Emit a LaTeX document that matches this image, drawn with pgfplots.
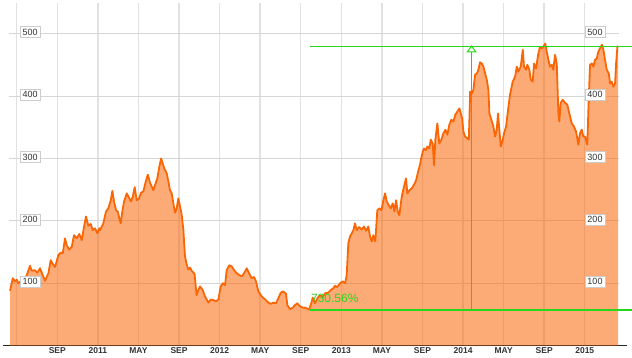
\documentclass[border=0pt]{standalone}
\usepackage{pgfplots}
\pgfplotsset{compat=1.18}
\usepackage{pgfplotstable}
\usepackage{fontspec}
\setmainfont{Liberation Sans}
\definecolor{lineor}{RGB}{250,102,5}
\definecolor{grn}{RGB}{40,215,25}
\definecolor{grnb}{RGB}{41,214,26}
\definecolor{grnc}{RGB}{30,220,20}
\definecolor{gridv}{RGB}{226,226,226}
\definecolor{gridh}{RGB}{214,214,214}
\definecolor{lbl}{RGB}{51,51,51}
\definecolor{boxc}{RGB}{204,204,204}

% x = months since Jan 2010, v = price
\pgfplotstableread{
m v
3.34 88
3.61 108
3.83 103
4.00 106
4.16 100
4.52 105
4.92 110
5.31 128
5.48 120
5.79 121
6.03 117
6.30 124
6.56 113
6.79 104
7.12 116
7.35 137
7.55 131
7.78 126
8.10 145
8.34 149
8.54 148
8.76 172
8.93 161
9.16 154
9.42 158
9.65 177
9.92 172
10.17 179
10.41 169
10.64 191
10.83 207
11.06 192
11.30 195
11.49 185
11.72 188
11.95 180
12.14 188
12.21 185
12.54 196
12.80 215
13.03 220
13.27 233
13.43 248
13.59 231
13.79 217
13.96 215
14.12 204
14.25 196
14.41 215
14.58 231
14.85 244
15.10 236
15.27 231
15.44 239
15.63 254
15.83 233
16.06 236
16.25 245
16.48 247
16.72 263
16.92 274
17.14 261
17.31 255
17.47 249
17.63 257
17.86 268
18.06 287
18.23 300
18.39 292
18.55 284
18.79 276
18.95 263
19.11 249
19.28 244
19.44 228
19.61 213
19.77 220
19.93 236
20.10 223
20.27 209
20.43 185
20.59 143
20.76 130
20.92 122
21.09 125
21.25 120
21.53 115
21.73 81
21.90 89
22.07 95
22.34 89
22.56 79
22.89 69
23.13 74
23.38 73
23.65 71
23.88 74
24.11 95
24.31 100
24.54 97
24.70 121
24.96 129
25.20 127
25.42 121
25.69 116
25.95 113
26.18 111
26.41 116
26.68 124
26.90 116
27.17 108
27.40 110
27.59 103
27.82 87
28.15 79
28.48 74
28.81 69
29.04 67
29.30 69
29.56 68
29.79 76
30.03 85
30.28 87
30.55 83
30.68 65
30.94 58.5
31.21 61
31.44 65
31.66 68
31.93 63
32.20 61
32.42 61
32.69 59
32.82 57.8
33.08 70
33.18 77
33.41 68
33.64 76
33.90 81
34.17 78
34.40 84
34.72 85
34.96 89
35.21 92
35.38 96
35.61 94
35.87 100
36.14 103
36.37 100
36.53 113
36.69 164
36.86 175
37.03 180
37.19 185
37.35 196
37.52 185
37.75 190
38.01 186
38.24 191
38.44 184
38.66 191
38.83 175
39.00 167
39.16 177
39.35 167
39.55 217
39.75 220
39.95 217
40.15 233
40.31 244
40.48 231
40.68 225
40.87 220
41.07 228
41.23 215
41.40 233
41.56 215
41.72 209
41.96 239
42.18 255
42.38 268
42.51 244
42.71 249
42.94 252
43.17 258
43.37 265
43.59 280
43.76 290
43.83 297
44.03 311
44.16 316
44.35 313
44.48 319
44.68 316
44.82 330
45.01 324
45.14 289
45.27 330
45.47 356
45.66 324
45.86 330
46.06 340
46.26 346
46.45 338
46.65 354
46.85 362
47.05 359
47.24 370
47.44 375
47.64 380
47.78 372
47.91 364
48.04 343
48.20 335
48.43 332
48.57 330
48.63 364
48.70 407
48.86 404
49.02 410
49.19 434
49.36 436
49.51 442
49.68 454
49.85 452
50.01 447
50.18 436
50.34 426
50.50 410
50.60 372
50.79 362
50.99 351
51.16 335
51.32 346
51.45 372
51.58 346
51.72 319
51.92 330
52.04 340
52.24 351
52.44 378
52.63 402
52.90 423
53.13 431
53.30 447
53.45 439
53.69 447
53.89 474
54.01 447
54.21 442
54.34 450
54.54 442
54.68 426
54.87 423
55.00 452
55.20 444
55.40 466
55.59 479
55.76 476
55.92 479
56.11 484
56.25 471
56.41 458
56.58 447
56.75 450
56.90 442
57.07 466
57.24 452
57.40 372
57.49 359
57.63 389
57.83 394
58.06 389
58.28 386
58.48 372
58.72 356
58.94 351
59.14 343
59.37 322
59.53 340
59.70 346
59.86 335
60.03 335
60.25 322
60.39 394
60.52 450
60.69 452
60.85 447
61.01 458
61.18 460
61.34 471
61.58 479
61.71 482
61.84 474
62.00 458
62.17 442
62.37 436
62.50 420
62.66 423
62.82 415
62.99 420
63.09 452
63.22 479
63.29 480
}\price

\begin{document}
\begin{tikzpicture}[x=1pt,y=1pt]
\useasboundingbox (0,0) rectangle (632,358);
\begin{axis}[
  at={(3.3,19.7)}, anchor=south west,
  scale only axis, width=623.7pt, height=342.4pt,
  xmin=2.68, xmax=64.17, ymin=0, ymax=548.5,
  axis x line*=bottom, axis y line=none,
  x axis line style={draw=black!85, line width=1pt},
  xtick={4,8,...,60},
  xticklabels={,SEP,2011,MAY,SEP,2012,MAY,SEP,2013,MAY,SEP,2014,MAY,SEP,2015},
  major tick length=0pt,
  xticklabel style={anchor=center, yshift=-5.2pt, font=\fontsize{8.5}{10}\selectfont\bfseries, text=lbl},
  xmajorgrids, major grid style={draw=gridv, line width=1.4pt},
  ytick=\empty,
  clip=false,
]
% horizontal grid lines
\foreach \yy in {100,200,300,400,500} {
  \edef\tmp{\noexpand\draw[gridh, line width=0.9pt] (axis cs:3.28,\yy) -- (axis cs:63.35,\yy);}
  \tmp
}
\addplot[draw=none, fill=lineor, fill opacity=0.55] table[x=m,y=v]{\price} \closedcycle;
\addplot[draw=lineor, line width=1.8pt, line join=round] table[x=m,y=v]{\price};
% green annotation
\draw[draw=grn, line width=1.1pt] (axis cs:32.92,480) -- (axis cs:64.66,480);
\draw[draw=grn, line width=1.6pt] (axis cs:32.92,57.5) -- (axis cs:64.66,57.5);
\draw[draw=grnc, line width=1.8pt] (axis cs:48.84,57.5) -- (axis cs:48.84,478);
\draw[draw=grnb, line width=1pt, fill=white] (axis cs:48.84,480) -- ++(-4.2pt,-5.8pt) -- ++(8.4pt,0pt) -- cycle;
\node[anchor=west, text=grn, font=\fontsize{12}{14}\selectfont, inner sep=0pt] at (axis cs:33.00,76.5) {730.56\%};
% y labels in boxes
\foreach \yy in {100,200,300,400,500} {
  \edef\tmp{\noexpand\node[draw=boxc, fill=white, inner xsep=2.2pt, inner ysep=2.4pt, text=lbl, font=\noexpand\fontsize{9}{10}\noexpand\selectfont, yshift=1.5pt] at (axis cs:5.31,\yy) {\yy};
  \noexpand\node[draw=boxc, fill=white, inner xsep=2.2pt, inner ysep=2.4pt, text=lbl, font=\noexpand\fontsize{9}{10}\noexpand\selectfont, yshift=1.5pt] at (axis cs:61.01,\yy) {\yy};}
  \tmp
}
\end{axis}
\end{tikzpicture}
\end{document}
